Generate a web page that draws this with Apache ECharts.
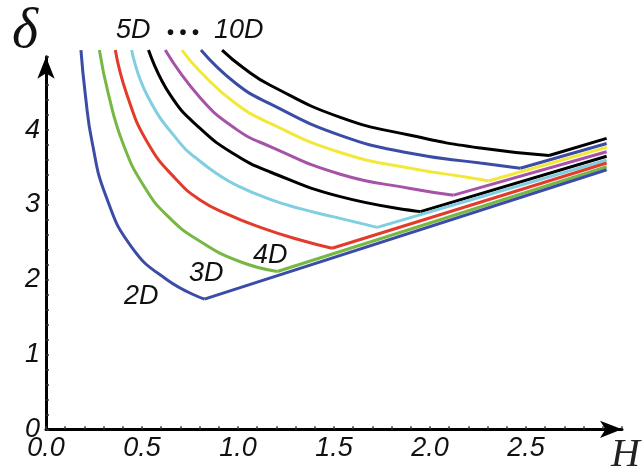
<!DOCTYPE html>
<html><head><meta charset="utf-8">
<script src="https://cdn.jsdelivr.net/npm/echarts@6/dist/echarts.min.js"></script>
<style>html,body{margin:0;padding:0;background:#fff}#c{width:644px;height:469px}</style>
</head><body><div id="c"></div>
<script>
// Descending branch points [H, delta] (last point = kink/minimum)
const curve2D = [[0.182,5.07],[0.205,4.47],[0.24,3.84],[0.312,3.12],[0.445,2.44],[0.63,2.00],[0.825,1.74]];
const curve3D = [[0.278,5.07],[0.326,4.47],[0.404,3.80],[0.508,3.26],[0.63,2.86],[0.804,2.51],[1.012,2.24],[1.205,2.11]];
const curve4D = [[0.361,5.07],[0.422,4.47],[0.534,3.81],[0.682,3.33],[0.80,3.07],[0.95,2.87],[1.116,2.70],[1.324,2.53],[1.49,2.42]];
const curve5D = [[0.446,5.07],[0.526,4.47],[0.70,3.82],[0.804,3.58],[0.90,3.40],[0.986,3.27],[1.16,3.08],[1.324,2.95],[1.50,2.84],[1.725,2.70]];
const curve6D = [[0.534,5.07],[0.647,4.47],[0.804,4.02],[0.986,3.67],[1.168,3.44],[1.533,3.11],[1.95,2.91]];
const curve7D = [[0.621,5.07],[0.804,4.43],[0.986,4.02],[1.168,3.78],[1.533,3.41],[1.898,3.22],[2.123,3.13]];
const curve8D = [[0.708,5.07],[0.804,4.78],[0.986,4.36],[1.168,4.09],[1.533,3.70],[1.898,3.49],[2.193,3.37],[2.305,3.32]];
const curve9D = [[0.807,5.07],[0.986,4.63],[1.168,4.35],[1.533,3.93],[1.898,3.69],[2.262,3.56],[2.47,3.49]];
const curve10D = [[0.917,5.07],[1.029,4.83],[1.168,4.60],[1.533,4.17],[1.898,3.93],[2.262,3.76],[2.62,3.66]];
// straight rising branch: from the kink to this end point
const endH = 2.92;
const endDelta = [3.47,3.51,3.56,3.60,3.65,3.71,3.77,3.82,3.89];
const curveNames = ['2D','3D','4D','5D','6D','7D','8D','9D','10D'];
const xTicks = ['0.0','0.5','1.0','1.5','2.0','2.5'];

const curves = [curve2D,curve3D,curve4D,curve5D,curve6D,curve7D,curve8D,curve9D,curve10D];
const colors = ['#3b4ca6','#76b843','#e23b2b','#80cfe0','#000000','#a652a8','#f3e838','#3b4ca6','#000000'];

const series = [];
curves.forEach((c, i) => {
  const lineStyle = {color: colors[i], width: 3};
  series.push({type:'line', name: curveNames[i], data: c, smooth: 0.5, showSymbol:false, clip:false, lineStyle, z: 10-i});
  series.push({type:'line', name: curveNames[i]+'b', data: [c[c.length-1], [endH, endDelta[i]]], showSymbol:false, clip:false, lineStyle, z: 20-i});
});

const chart = echarts.init(document.getElementById('c'), null, {renderer:'canvas'});
const lab = {fontFamily:'Liberation Sans', fontStyle:'italic', fontSize:27, color:'#111'};
chart.setOption({
  animation:false,
  grid:{left:46, width:576, top:56.8, height:372.5},
  xAxis:{type:'value', min:0, max:3, interval:0.5,
    axisLine:{lineStyle:{color:'#000', width:3}, symbol:['none','arrow'], symbolSize:[13,22]},
    axisTick:{inside:true, length:3, lineStyle:{color:'#333', width:1.5}},
    minorTick:{show:true, splitNumber:5, length:3, lineStyle:{color:'#333', width:1.5}},
    splitLine:{show:false},
    axisLabel:Object.assign({margin:6, showMaxLabel:false, formatter:(v)=>xTicks[Math.round(v*2)]||''}, lab)
  },
  yAxis:{type:'value', min:0, max:4.98, interval:1,
    axisLine:{lineStyle:{color:'#000', width:3}, symbol:['none','arrow'], symbolSize:[13,22]},
    axisTick:{inside:true, length:3, lineStyle:{color:'#333', width:1.5}},
    minorTick:{show:true, splitNumber:5, length:3, lineStyle:{color:'#333', width:1.5}},
    splitLine:{show:false},
    axisLabel:Object.assign({margin:6, showMaxLabel:false}, lab)
  },
  graphic:[
    {type:'text', left:12, top:4, style:{text:'δ', font:'italic 56px "Liberation Serif"', fill:'#111'}},
    {type:'text', left:611, top:435, style:{text:'H', font:'italic 40px "Liberation Serif"', fill:'#222'}},
    {type:'text', left:116, top:17, style:{text:'5D', font:'italic 27px "Liberation Sans"', fill:'#111'}},
    {type:'text', left:167, top:23, style:{text:'• • •', font:'bold 20px "Liberation Sans"', fill:'#111'}},
    {type:'text', left:214, top:17, style:{text:'10D', font:'italic 27px "Liberation Sans"', fill:'#111'}},
    {type:'text', left:124, top:283, style:{text:'2D', font:'italic 27px "Liberation Sans"', fill:'#111'}},
    {type:'text', left:189, top:260, style:{text:'3D', font:'italic 27px "Liberation Sans"', fill:'#111'}},
    {type:'text', left:253, top:242, style:{text:'4D', font:'italic 27px "Liberation Sans"', fill:'#111'}}
  ],
  series
});
</script></body></html>
